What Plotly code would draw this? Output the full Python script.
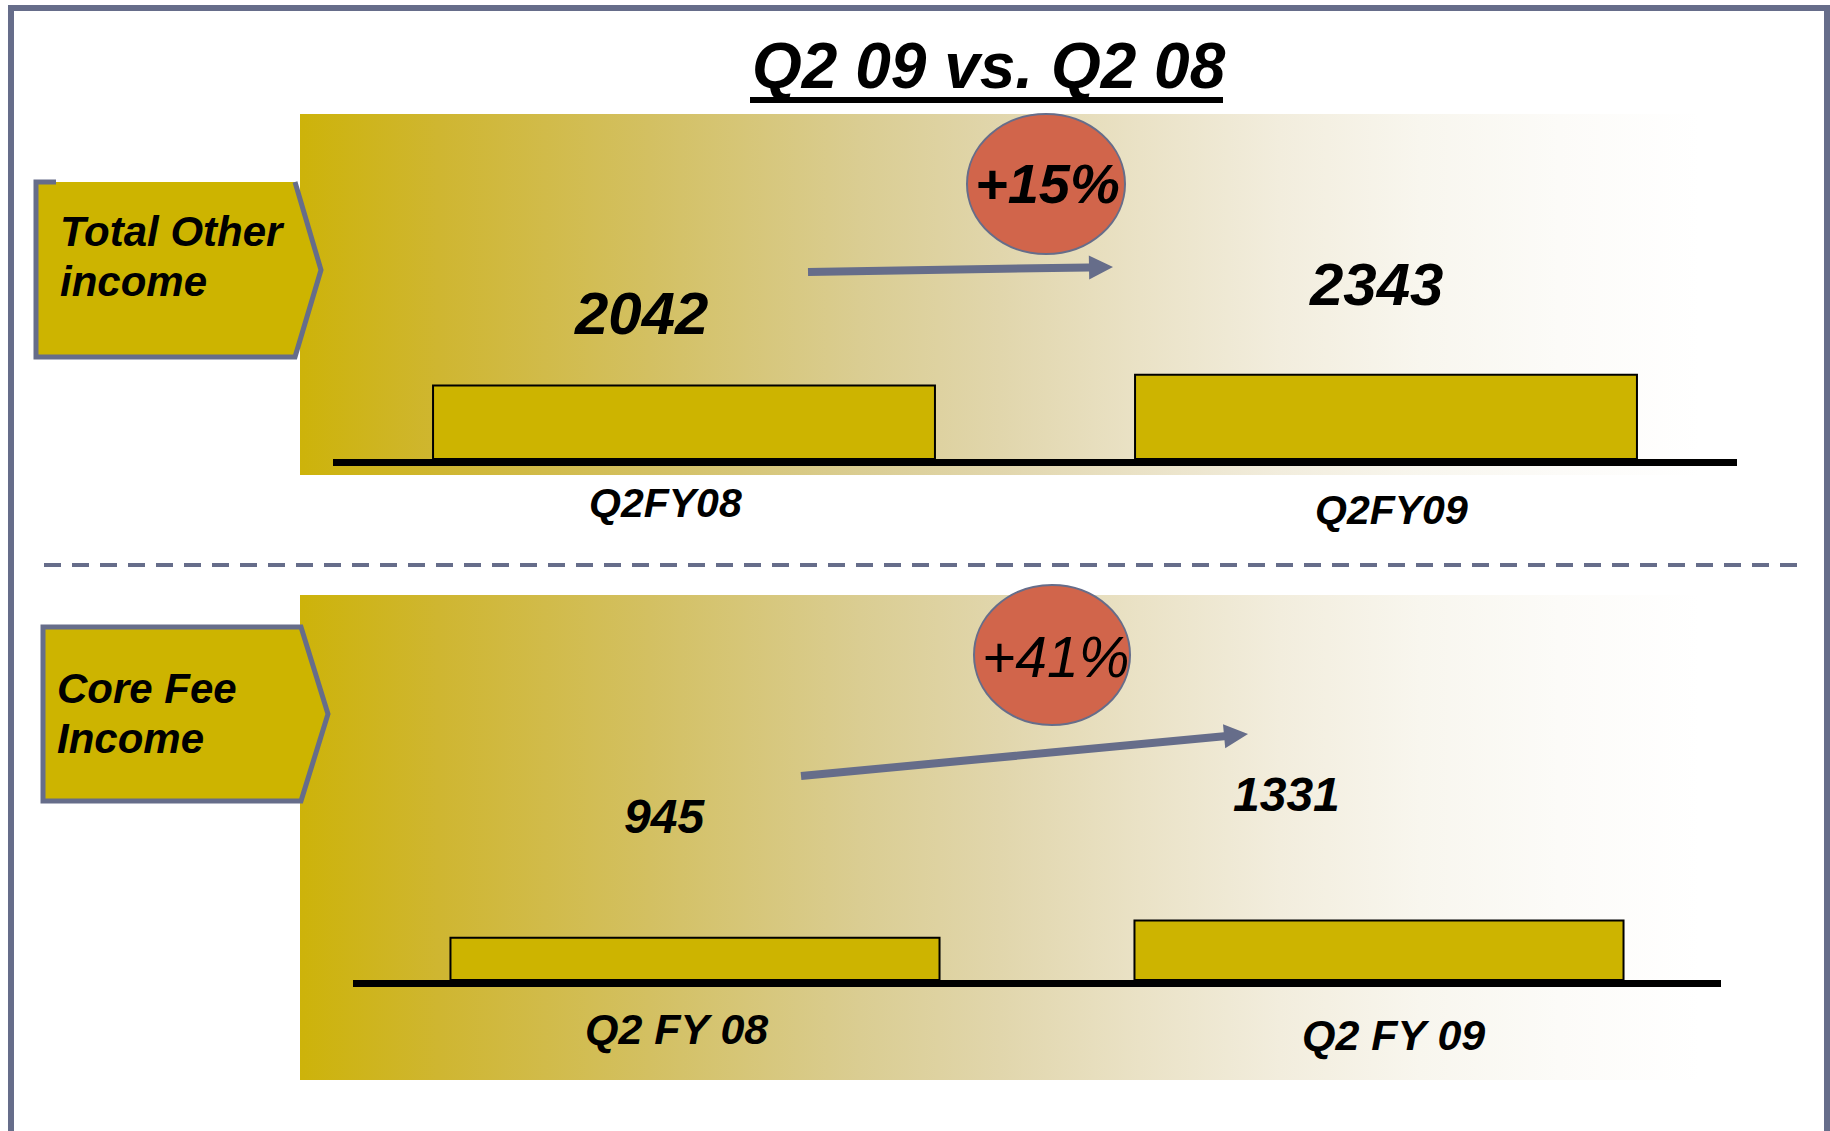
import base64
import math
import plotly.graph_objects as go

W, H = 1830, 1131

# ---- chart data ----
chart_title = "Q2 09 vs. Q2 08"

top_name = ["Total Other", "income"]
top_categories = ["Q2FY08", "Q2FY09"]
top_values = [2042, 2343]
top_change = "+15%"

bottom_name = ["Core Fee", "Income"]
bottom_categories = ["Q2 FY 08", "Q2 FY 09"]
bottom_values = [945, 1331]
bottom_change = "+41%"

# ---- styling ----
GOLD = "#CDB400"
SLATE = "#666D8A"
BADGE = "#D1654B"
FONT = "Liberation Sans, Arial, Helvetica, sans-serif"


def px(x):
    return x / W


def py(y):
    return 1 - y / H


def bold_italic(size, weight="bold"):
    return dict(family=FONT, size=size, color="black", weight=weight, style="italic")


def gradient_svg(width, height):
    stops = [
        (0.00, "#CDB30A"), (0.10, "#CFB631"), (0.25, "#D3C062"),
        (0.40, "#DACD92"), (0.50, "#E1D6AC"), (0.60, "#EAE2C6"),
        (0.70, "#F2EDDD"), (0.80, "#F8F6EE"), (0.90, "#FCFBF8"),
        (1.00, "#FFFFFF"),
    ]
    stop_xml = "".join(
        f'<stop offset="{o}" stop-color="{c}"/>' for o, c in stops
    )
    svg = (
        f'<svg xmlns="http://www.w3.org/2000/svg" width="{width}" height="{height}" '
        f'viewBox="0 0 {width} {height}" preserveAspectRatio="none">'
        f'<defs><linearGradient id="g" x1="0" y1="0" x2="1" y2="0">{stop_xml}'
        f'</linearGradient></defs>'
        f'<rect x="0" y="0" width="{width}" height="{height}" fill="url(#g)"/></svg>'
    )
    return "data:image/svg+xml;base64," + base64.b64encode(svg.encode()).decode()


def panel_image(x0, y0, x1, y1):
    return dict(
        source=gradient_svg(x1 - x0, y1 - y0),
        xref="paper", yref="paper",
        x=px(x0), y=py(y0), sizex=(x1 - x0) / W, sizey=(y1 - y0) / H,
        xanchor="left", yanchor="top", sizing="stretch", layer="below",
    )


def poly(points):
    return "M " + " L ".join(f"{px(x):.5f},{py(y):.5f}" for x, y in points)


def arrow_shape(x0, y0, x1, y1, w=8, head_len=24, head_w=12):
    dx, dy = x1 - x0, y1 - y0
    L = math.hypot(dx, dy)
    ux, uy = dx / L, dy / L
    nx, ny = -uy, ux
    bx, by = x1 - ux * head_len, y1 - uy * head_len
    h = w / 2
    pts = [
        (x0 + nx * h, y0 + ny * h),
        (bx + nx * h, by + ny * h),
        (bx + nx * head_w, by + ny * head_w),
        (x1, y1),
        (bx - nx * head_w, by - ny * head_w),
        (bx - nx * h, by - ny * h),
        (x0 - nx * h, y0 - ny * h),
    ]
    return dict(type="path", xref="paper", yref="paper", path=poly(pts) + " Z",
                fillcolor=SLATE, line=dict(width=0), layer="above")


fig = go.Figure()

# bars
fig.add_trace(go.Bar(
    x=top_categories, y=top_values, xaxis="x", yaxis="y", width=0.715,
    marker=dict(color=GOLD, line=dict(color="black", width=2)),
    hoverinfo="skip", showlegend=False,
))
fig.add_trace(go.Bar(
    x=bottom_categories, y=bottom_values, xaxis="x2", yaxis="y2", width=0.715,
    marker=dict(color=GOLD, line=dict(color="black", width=2)),
    hoverinfo="skip", showlegend=False,
))

axis_common = dict(showgrid=False, zeroline=False, showticklabels=False, ticks="",
                   fixedrange=True)

shapes = []
annotations = []

# outer frame (open at the bottom)
shapes.append(dict(type="path", xref="paper", yref="paper",
                   path=poly([(11, 1140), (11, 8), (1827, 8), (1827, 1140)]),
                   line=dict(color=SLATE, width=6), layer="above"))

# title + underline
annotations.append(dict(text=chart_title, xref="paper", yref="paper",
                        x=px(989), y=py(66), xanchor="center", yanchor="middle",
                        showarrow=False, font=bold_italic(64)))
shapes.append(dict(type="line", xref="paper", yref="paper",
                   x0=px(750), x1=px(1223), y0=py(100), y1=py(100),
                   line=dict(color="black", width=6)))

# separator
shapes.append(dict(type="line", xref="paper", yref="paper",
                   x0=px(44), x1=px(1797), y0=py(565), y1=py(565),
                   line=dict(color=SLATE, width=4, dash="17px,11px")))

# section tags
top_tag = [(36, 182), (295, 182), (321, 270), (295, 357), (36, 357)]
shapes.append(dict(type="path", xref="paper", yref="paper", path=poly(top_tag) + " Z",
                   fillcolor=GOLD, line=dict(width=0), layer="above"))
shapes.append(dict(type="path", xref="paper", yref="paper",
                   path=poly([(56, 182), (36, 182), (36, 357), (295, 357), (321, 270), (295, 182)]),
                   line=dict(color=SLATE, width=5), layer="above"))
bottom_tag = [(43, 627), (301, 627), (328, 714), (301, 801), (43, 801)]
shapes.append(dict(type="path", xref="paper", yref="paper", path=poly(bottom_tag) + " Z",
                   fillcolor=GOLD, line=dict(color=SLATE, width=5), layer="above"))

for text, x, y in [(top_name[0], 58, 232), (top_name[1], 58, 282),
                   (bottom_name[0], 55, 688), (bottom_name[1], 55, 738)]:
    annotations.append(dict(text=text, xref="paper", yref="paper", x=px(x), y=py(y),
                            xanchor="left", yanchor="middle", showarrow=False,
                            font=bold_italic(42)))

# growth badges and arrows
shapes.append(dict(type="circle", xref="paper", yref="paper",
                   x0=px(967), x1=px(1125), y0=py(254), y1=py(114),
                   fillcolor=BADGE, line=dict(color=SLATE, width=2), layer="above"))
shapes.append(dict(type="circle", xref="paper", yref="paper",
                   x0=px(974), x1=px(1130), y0=py(725), y1=py(585),
                   fillcolor=BADGE, line=dict(color=SLATE, width=2), layer="above"))
annotations.append(dict(text=top_change, xref="paper", yref="paper", x=px(1047), y=py(183),
                        xanchor="center", yanchor="middle", showarrow=False,
                        font=bold_italic(56)))
annotations.append(dict(text=bottom_change, xref="paper", yref="paper", x=px(1055), y=py(657),
                        xanchor="center", yanchor="middle", showarrow=False,
                        font=bold_italic(57, weight="normal")))
shapes.append(arrow_shape(808, 272, 1113, 267, w=8))
shapes.append(arrow_shape(801, 776, 1248, 734, w=8))

# value labels and category labels
for cat, val, shift, y in zip(top_categories, top_values, [-43, -10], [313, 284]):
    annotations.append(dict(text=str(val), xref="x", yref="paper", x=cat, y=py(y),
                            xshift=shift, xanchor="center", yanchor="middle",
                            showarrow=False, font=bold_italic(60)))
for cat, shift, y in zip(top_categories, [-19, 5], [503, 510]):
    annotations.append(dict(text=cat, xref="x", yref="paper", x=cat, y=py(y),
                            xshift=shift, xanchor="center", yanchor="middle",
                            showarrow=False, font=bold_italic(41)))
for cat, val, shift, y in zip(bottom_categories, bottom_values, [-31, -93], [816, 794]):
    annotations.append(dict(text=str(val), xref="x2", yref="paper", x=cat, y=py(y),
                            xshift=shift, xanchor="center", yanchor="middle",
                            showarrow=False, font=bold_italic(48)))
for cat, shift, y in zip(bottom_categories, [-19, 14], [1029, 1035]):
    annotations.append(dict(text=cat, xref="x2", yref="paper", x=cat, y=py(y),
                            xshift=shift, xanchor="center", yanchor="middle",
                            showarrow=False, font=bold_italic(43)))

fig.update_layout(
    width=W, height=H,
    margin=dict(l=0, r=0, t=0, b=0),
    paper_bgcolor="white", plot_bgcolor="rgba(0,0,0,0)",
    showlegend=False,
    bargap=0.285,
    xaxis=dict(**axis_common, type="category", domain=[px(333), px(1737)],
               range=[-0.5, 1.5], anchor="y",
               showline=True, linecolor="black", linewidth=7),
    yaxis=dict(**axis_common, domain=[py(459), py(159)], range=[0, 300 / 0.0360],
               anchor="x"),
    xaxis2=dict(**axis_common, type="category", domain=[px(353), px(1721)],
                range=[-0.5, 1.5], anchor="y2",
                showline=True, linecolor="black", linewidth=7),
    yaxis2=dict(**axis_common, domain=[py(980), py(680)], range=[0, 300 / 0.04476],
                anchor="x2"),
    images=[panel_image(300, 114, 1700, 475), panel_image(300, 595, 1700, 1080)],
    shapes=shapes,
    annotations=annotations,
)

fig.write_html("out.html", config={"displayModeBar": False})
